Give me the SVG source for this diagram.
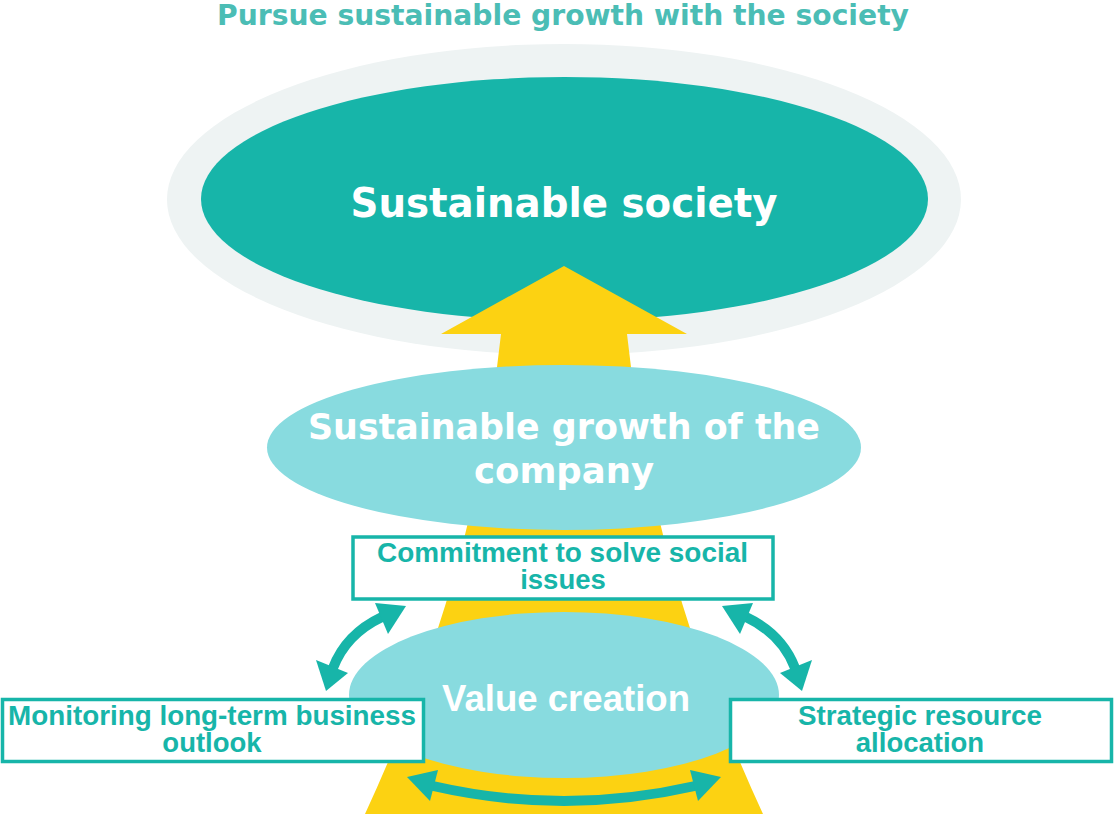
<svg xmlns="http://www.w3.org/2000/svg" width="1114" height="814" viewBox="0 0 1114 814">
<style>
.meiryo{font-family:"DejaVu Sans","Noto Sans",sans-serif;font-weight:bold;}
.arial{font-family:"Liberation Sans",Arial,sans-serif;font-weight:bold;}
.box{fill:#ffffff;stroke:#17B5A9;stroke-width:3.5;}
.boxtxt{fill:#17B5A9;font-size:27.5px;}
.wt{fill:#ffffff;}
.arc{fill:none;stroke:#17B5A9;stroke-width:10;}
.head{fill:#17B5A9;}
</style>
<rect width="1114" height="814" fill="#ffffff"/>
<text id="title" class="meiryo" x="563" y="25" font-size="28" fill="#4BBDB5" text-anchor="middle" textLength="692" lengthAdjust="spacingAndGlyphs">Pursue sustainable growth with the society</text>
<g id="society">
<ellipse cx="564" cy="199.5" rx="397" ry="155.5" fill="#EEF3F3"/>
<ellipse cx="564.5" cy="199" rx="363.5" ry="122" fill="#17B5A9"/>
<text class="meiryo wt" x="564" y="217" font-size="41" text-anchor="middle" textLength="427" lengthAdjust="spacingAndGlyphs">Sustainable society</text>
</g>
<g id="big-arrow">
<path d="M564,266 L687,334 L627,334 Q652,574 763,814 L365,814 Q476,574 501,334 L441,334 Z" fill="#FCD212"/>
</g>
<g id="company">
<ellipse cx="564" cy="447.5" rx="297" ry="82.5" fill="#88DBDF"/>
<text class="meiryo wt" x="564" y="439" font-size="36" text-anchor="middle" textLength="512" lengthAdjust="spacingAndGlyphs">Sustainable growth of the</text>
<text class="meiryo wt" x="564" y="483" font-size="36" text-anchor="middle" textLength="180" lengthAdjust="spacingAndGlyphs">company</text>
</g>
<g id="commitment">
<rect class="box" x="353" y="537" width="420" height="62"/>
<text class="arial boxtxt" x="562.5" y="562" text-anchor="middle" textLength="371" lengthAdjust="spacingAndGlyphs">Commitment to solve social</text>
<text class="arial boxtxt" x="563" y="589" text-anchor="middle">issues</text>
</g>
<g id="value-creation">
<ellipse cx="564" cy="695" rx="215" ry="83" fill="#88DBDF"/>
<text class="arial wt" x="566" y="711" font-size="36" text-anchor="middle" textLength="248" lengthAdjust="spacingAndGlyphs">Value creation</text>
</g>
<g id="monitoring">
<rect class="box" x="2.5" y="699.5" width="421" height="62"/>
<text class="arial boxtxt" x="212" y="725" text-anchor="middle" textLength="408" lengthAdjust="spacingAndGlyphs">Monitoring long-term business</text>
<text class="arial boxtxt" x="212" y="752" text-anchor="middle">outlook</text>
</g>
<g id="strategic">
<rect class="box" x="730.5" y="699.5" width="381" height="62"/>
<text class="arial boxtxt" x="920" y="725" text-anchor="middle" textLength="244" lengthAdjust="spacingAndGlyphs">Strategic resource</text>
<text class="arial boxtxt" x="920" y="752" text-anchor="middle">allocation</text>
</g>
<g id="connectors">
<path class="arc" d="M333,668 Q346,634 382,617"/>
<polygon class="head" points="406,606 375,603 388,634"/>
<polygon class="head" points="326,691 316,660 348,673"/>
<path class="arc" d="M795,668 Q782,634 746,617"/>
<polygon class="head" points="722,606 753,603 740,634"/>
<polygon class="head" points="802,691 812,660 780,673"/>
<path class="arc" d="M433,786 Q564,816 695,786"/>
<polygon class="head" points="407,777 438,770 430,801"/>
<polygon class="head" points="721,777 690,770 698,801"/>
</g>
</svg>
